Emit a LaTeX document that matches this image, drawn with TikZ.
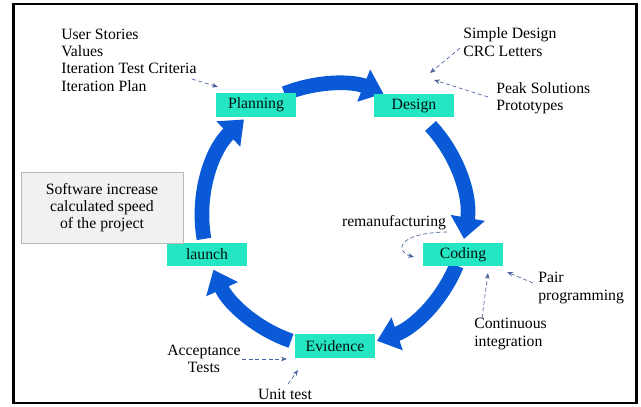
\documentclass[tikz,border=0pt]{standalone}
\usepackage{fontspec}
\setmainfont{Liberation Serif}
\usepackage{xcolor}
\usepackage{tikz}
\usetikzlibrary{arrows.meta}
\usetikzlibrary{positioning}

\definecolor{ringblue}{RGB}{10,90,215}
\definecolor{phasefill}{RGB}{36,230,194}
\definecolor{notecol}{RGB}{75,100,160}
\definecolor{boxgray}{RGB}{241,241,241}

\begin{document}
\begin{tikzpicture}[
    x=0.75pt, y=-0.75pt,
    font=\fontsize{11.8}{13}\selectfont,
    phase/.style={fill=phasefill, text=black!85!teal, minimum width=60pt, minimum height=17.5pt, inner sep=0pt},
    ring/.style={draw=ringblue, line width=11pt, -{Triangle[width=25pt,length=16pt]}},
    note/.style={draw=notecol, densely dashed, line width=0.5pt, -{Stealth[length=4.5pt,width=3.5pt]}},
    txt/.style={align=left, inner sep=0pt}
  ]
  \fill [white] (0,0) rectangle (641,406);
  \useasboundingbox (0,0) rectangle (641,406);
  \draw [line width=2pt] (13.5,4) rectangle (636.5,403);

  % the cycle
  \coordinate (ctr) at (334,216);
  \draw [ring] ([shift={(248:132)}]ctr) arc[start angle=248, end angle=292, radius=132];
  \draw [ring] ([shift={(-43:132)}]ctr) arc[start angle=-43, end angle=10, radius=132];
  \draw [ring] ([shift={(22:132)}]ctr) arc[start angle=22, end angle=71, radius=132];
  \draw [ring] ([shift={(109:132)}]ctr) arc[start angle=109, end angle=156, radius=132];
  \draw [ring] ([shift={(170:132)}]ctr) arc[start angle=170, end angle=227, radius=132];

  \node [phase] (plan) at (256,105) {Planning};
  \node [phase] (design) at (414,105.5) {Design};
  \node [phase] (coding) at (463,254.5) {Coding};
  \node [phase] (evid) at (335,346) {Evidence};
  \node [phase] (launch) at (207,254.5) {launch};

  \node [draw=gray!55, fill=boxgray, minimum width=121.5pt, minimum height=53pt, align=center, inner sep=0pt] (speed) at (102,207.5) {Software increase\\calculated speed\\of the project};

  % notes
  \node [txt, anchor=west] (plannotes) at (61,60) {User Stories\\Values\\Iteration Test Criteria\\Iteration Plan};
  \node [txt, anchor=west] (simple) at (463,42) {Simple Design\\CRC Letters};
  \node [txt, anchor=west] (peak) at (496,98.5) {Peak Solutions\\Prototypes};
  \node [inner sep=0pt, anchor=base] (remanu) at (394,226) {remanufacturing};
  \node [txt, anchor=west] (pair) at (538,288) {Pair\\programming};
  \node [txt, anchor=west] (ci) at (474,334) {Continuous\\integration};
  \node [txt, align=center] (accept) at (204,359) {Acceptance\\Tests};
  \node [inner sep=0pt, anchor=base] (unit) at (285,399) {Unit test};

  \coordinate (plannotes-out) at (192,79);
  \coordinate (plan-in) at (218,87);
  \coordinate (simple-out) at (460,48);
  \coordinate (design-in1) at (430,73);
  \coordinate (peak-out) at (488,97);
  \coordinate (design-in2) at (434,80);
  \coordinate (remanu-out) at (447,232);
  \coordinate (coding-in1) at (414,257);
  \coordinate (pair-out) at (533,283);
  \coordinate (coding-in2) at (507,272);
  \coordinate (ci-out) at (482,318);
  \coordinate (coding-in3) at (488,273);
  \coordinate (accept-out) at (242,359);
  \coordinate (evid-in1) at (287,359);
  \coordinate (unit-out) at (288,384);
  \coordinate (evid-in2) at (298,370);

  \draw [note] (plannotes-out) -- (plan-in);
  \draw [note] (simple-out) -- (design-in1);
  \draw [note] (peak-out) -- (design-in2);
  \draw [note] (remanu-out) .. controls (395,233) and (396,252) .. (coding-in1);
  \draw [note] (pair-out) -- (coding-in2);
  \draw [note] (ci-out) -- (coding-in3);
  \draw [note] (accept-out) -- (evid-in1);
  \draw [note] (unit-out) -- (evid-in2);
\end{tikzpicture}
\end{document}
